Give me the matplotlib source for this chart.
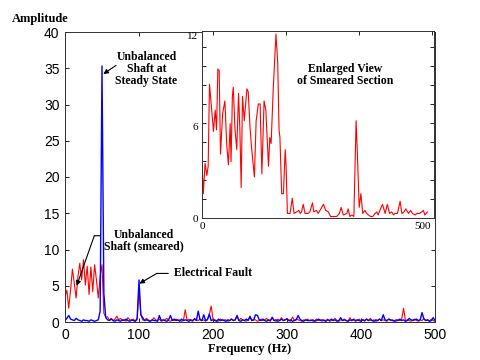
import numpy as np
import matplotlib

matplotlib.use("Agg")
import matplotlib.pyplot as plt
from matplotlib.ticker import MultipleLocator

SERIF = "Liberation Serif"
SANS = "Liberation Sans"

# main spectrum, sampled every 2.5 Hz from 0 to 500 Hz
freq = np.linspace(0, 500, 201)
amp_smeared = [
    3.5, 4.4, 1.9, 4.4, 7.3, 5.4, 3.3, 6.3, 8.1, 5.8, 8.6, 5.1, 7.7, 3.8, 7.6, 4.2, 7.9, 5.8, 3.3, 6.3,
    7.9, 1.2, 0.7, 0.7, 0.3, 0.5, 0.2, 0.4, 0.8, 0.3, 0.5, 0.2, 0.3, 0.1, 0.6, 0.3, 0.2, 0.4, 0.1, 0.3,
    4.5, 1.0, 0.3, 0.2, 0.5, 0.3, 0.1, 0.2, 0.6, 0.3, 0.2, 0.4, 0.1, 0.2, 0.3, 0.5, 0.2, 0.1, 0.3, 0.2,
    0.4, 0.2, 0.3, 0.1, 0.2, 1.7, 0.2, 0.4, 0.2, 0.1, 0.5, 0.3, 0.2, 0.4, 0.2, 0.3, 0.1, 0.4, 1.0, 2.2,
    0.4, 0.3, 0.2, 0.1, 0.4, 0.2, 0.3, 0.3, 0.1, 0.2, 0.4, 0.2, 0.3, 0.8, 0.2, 0.5, 0.3, 0.2, 0.1, 0.4,
    0.6, 0.2, 0.3, 0.3, 0.1, 0.2, 0.4, 0.2, 0.3, 0.5, 0.2, 0.1, 0.7, 0.2, 0.1, 0.4, 0.2, 0.6, 0.2, 0.3,
    0.5, 0.2, 0.1, 0.7, 0.2, 0.4, 0.3, 0.2, 0.1, 0.3, 0.2, 0.4, 0.2, 0.3, 0.1, 0.2, 0.4, 0.2, 0.3, 0.1,
    0.3, 0.2, 0.4, 0.1, 0.2, 0.3, 0.5, 0.2, 0.1, 0.3, 0.2, 0.4, 0.2, 0.1, 0.6, 0.2, 0.3, 0.1, 0.2, 0.4,
    0.2, 0.3, 0.1, 0.4, 0.2, 0.5, 0.2, 0.3, 0.1, 0.2, 0.4, 0.2, 0.3, 0.2, 0.1, 0.4, 0.2, 0.3, 0.2, 0.1,
    0.3, 0.2, 0.4, 1.9, 0.2, 0.3, 0.2, 0.1, 0.3, 0.4, 0.2, 0.1, 0.3, 0.2, 0.5, 0.2, 0.3, 0.1, 0.4, 0.2,
    0.1,
]
amp_steady = [
    0.2, 0.5, 0.9, 0.4, 0.3, 0.2, 0.5, 0.3, 0.2, 0.1, 0.3, 0.2, 0.2, 0.1, 0.3, 0.2, 0.1, 0.2, 0.3, 1.5,
    35.3, 4.0, 0.6, 0.3, 0.2, 0.4, 0.2, 0.1, 0.3, 0.2, 0.1, 0.3, 0.2, 0.4, 0.2, 0.1, 0.3, 0.2, 0.1, 0.5,
    5.8, 1.0, 0.6, 0.2, 0.3, 0.2, 0.1, 0.3, 0.2, 0.2, 0.1, 0.9, 0.2, 0.3, 0.2, 0.1, 0.3, 0.9, 0.2, 0.4,
    0.2, 0.3, 0.1, 0.4, 0.2, 0.3, 0.2, 0.1, 0.3, 0.2, 0.4, 0.2, 1.5, 0.3, 0.2, 1.0, 0.2, 0.3, 1.1, 0.2,
    0.3, 0.2, 0.1, 0.4, 0.2, 0.3, 0.2, 0.1, 0.3, 0.2, 0.4, 0.2, 0.3, 0.9, 0.2, 0.1, 0.3, 0.2, 0.4, 0.2,
    0.8, 0.2, 0.3, 1.0, 0.9, 0.3, 0.2, 0.4, 0.2, 0.1, 0.3, 0.2, 0.6, 0.2, 0.3, 0.1, 0.2, 0.4, 0.2, 0.3,
    0.4, 0.2, 0.3, 0.1, 0.2, 0.3, 0.9, 0.4, 0.2, 0.1, 0.3, 0.2, 0.2, 0.2, 0.3, 0.1, 0.2, 0.4, 0.2, 0.3,
    0.2, 0.1, 0.3, 0.2, 0.4, 0.2, 0.3, 0.1, 0.2, 0.6, 0.2, 0.3, 0.2, 0.1, 0.3, 0.2, 0.4, 0.2, 0.3, 0.2,
    0.1, 0.3, 0.2, 0.4, 0.2, 0.3, 0.2, 0.1, 0.3, 0.2, 0.4, 0.2, 1.0, 0.3, 0.2, 0.4, 0.3, 0.2, 0.1, 0.3,
    0.2, 0.4, 0.2, 0.3, 0.1, 0.2, 0.5, 0.3, 0.2, 0.3, 0.4, 0.2, 0.3, 1.3, 0.4, 0.2, 0.3, 0.1, 0.2, 0.6,
    0.2,
]

# enlarged view of the smeared section (inset)
zoom_x = [
    0, 3, 7, 11, 14, 17, 22, 26, 30, 33, 36, 39, 42, 47, 52, 56, 60, 64, 66, 69,
    71, 75, 79, 83, 86, 89, 92, 96, 102, 105, 109, 113, 119, 123, 128, 132, 136, 141, 145, 151,
    154, 157, 162, 168, 172, 175, 177, 181, 185, 189, 191, 194, 200, 205, 209, 215, 220, 223, 226, 230,
    234, 241, 245, 251, 254, 260, 264, 268, 272, 276, 281, 287, 292, 298, 306, 312, 316, 321, 329, 332,
    336, 340, 345, 350, 353, 357, 361, 365, 370, 374, 378, 383, 388, 393, 397, 400, 404, 410, 416, 421,
    426, 431, 435, 438, 444, 450, 454, 459, 463, 469, 474, 478, 484, 488, 494, 499, 503, 506, 512,
]
zoom_amp = [
    3.6, 1.6, 3.6, 2.8, 3.4, 8.8, 7.1, 5.7, 7.1, 5.8, 9.8, 9.7, 4.2, 6.9, 7.7, 4.9, 3.5, 6.2, 3.7, 8.0,
    8.6, 5.8, 4.5, 8.2, 5.8, 2.0, 8.0, 6.4, 8.5, 8.3, 6.0, 4.5, 2.7, 6.4, 7.5, 7.5, 2.9, 7.7, 7.1, 3.4,
    5.3, 4.9, 8.6, 12.1, 10.2, 5.8, 5.3, 1.6, 1.6, 4.5, 3.4, 0.3, 0.3, 1.3, 0.3, 0.4, 0.5, 0.3, 0.4, 0.9,
    0.3, 0.3, 0.4, 1.0, 0.4, 0.5, 0.3, 0.5, 0.7, 0.9, 0.5, 0.4, 0.1, 0.1, 0.1, 0.3, 0.7, 0.2, 0.3, 0.6,
    0.1, 0.2, 0.1, 6.4, 4.2, 0.7, 1.6, 0.3, 0.5, 0.3, 0.2, 0.1, 0.1, 0.3, 0.4, 0.2, 0.5, 0.9, 0.3, 0.9,
    0.3, 0.4, 0.2, 0.3, 0.3, 1.1, 0.3, 0.4, 0.6, 0.3, 0.5, 0.3, 0.2, 0.3, 0.3, 0.4, 0.5, 0.2, 0.4,
]

RED = "#ff0000"
BLUE = "#0000ff"

fig = plt.figure(figsize=(4.8, 3.6), dpi=100)
ax = fig.add_axes([65 / 480, 38 / 360, 370 / 480, 290 / 360])

ax.plot(freq, amp_smeared, color=RED, lw=0.8)
ax.plot(freq, amp_steady, color=BLUE, lw=1.0)

ax.set_xlim(0, 500)
ax.set_ylim(0, 40)
ax.xaxis.set_major_locator(MultipleLocator(100))
ax.yaxis.set_major_locator(MultipleLocator(5))
ax.tick_params(direction="in", length=3, width=0.6, top=True, right=True,
               labelsize=10, pad=4)
for lbl in ax.get_xticklabels() + ax.get_yticklabels():
    lbl.set_family(SANS)
for sp in ax.spines.values():
    sp.set_linewidth(0.7)
    sp.set_color("#303030")

ax.text(-0.143, 1.045, "Amplitude", transform=ax.transAxes, family=SERIF,
        fontweight="bold", fontsize=9, ha="left", va="center")
ax.set_xlabel("Frequency (Hz)", family=SERIF, fontweight="bold", fontsize=9, labelpad=1)

txt = dict(family=SERIF, fontweight="bold", fontsize=8.5, linespacing=0.95)
head = dict(arrowstyle="-|>", color="black", lw=0.8, mutation_scale=7)
line = dict(arrowstyle="-", color="black", lw=0.8, shrinkA=0, shrinkB=0)

ax.text(110, 34.9, "Unbalanced\nShaft at\nSteady State", ha="center", va="center", **txt)
ax.annotate("", xy=(51.8, 34.2), xytext=(69, 35.4), arrowprops=dict(head, shrinkA=0, shrinkB=0))

ax.text(106, 11.2, "Unbalanced\nShaft (smeared)", ha="center", va="center", **txt)
ax.annotate("", xy=(39.6, 11.9), xytext=(47.3, 11.9), arrowprops=line)
ax.annotate("", xy=(15.8, 5.0), xytext=(39.6, 11.9), arrowprops=dict(head, shrinkA=0, shrinkB=0))

ax.text(147, 6.7, "Electrical Fault", ha="left", va="center", **txt)
ax.annotate("", xy=(124, 6.7), xytext=(139.6, 6.7), arrowprops=line)
ax.annotate("", xy=(100.6, 5.3), xytext=(124, 6.7), arrowprops=dict(head, shrinkA=0, shrinkB=0))

# inset
axi = fig.add_axes([202 / 480, 142 / 360, 232 / 480, 187 / 360])
axi.plot(zoom_x, zoom_amp, color=RED, lw=0.8)
axi.set_xlim(0, 527)
axi.set_ylim(0, 12.3)
axi.set_xticks([0, 500])
axi.set_yticks([0, 6, 12])
axi.set_xticks([24, 191, 357, 522], minor=True)
axi.yaxis.set_minor_locator(MultipleLocator(1.25))
axi.tick_params(which="major", length=0, labelsize=8, pad=3)
axi.tick_params(axis="x", which="minor", direction="in", length=3, width=0.6,
                bottom=False, top=True)
axi.tick_params(axis="y", which="minor", direction="in", length=3, width=0.6,
                left=True, right=True)
for lbl in axi.get_xticklabels() + axi.get_yticklabels():
    lbl.set_family(SERIF)
for sp in axi.spines.values():
    sp.set_linewidth(0.7)
    sp.set_color("#303030")
axi.text(325, 9.4, "Enlarged View\nof Smeared Section", ha="center", va="center", **txt)

fig.savefig("out.png", dpi=100)
